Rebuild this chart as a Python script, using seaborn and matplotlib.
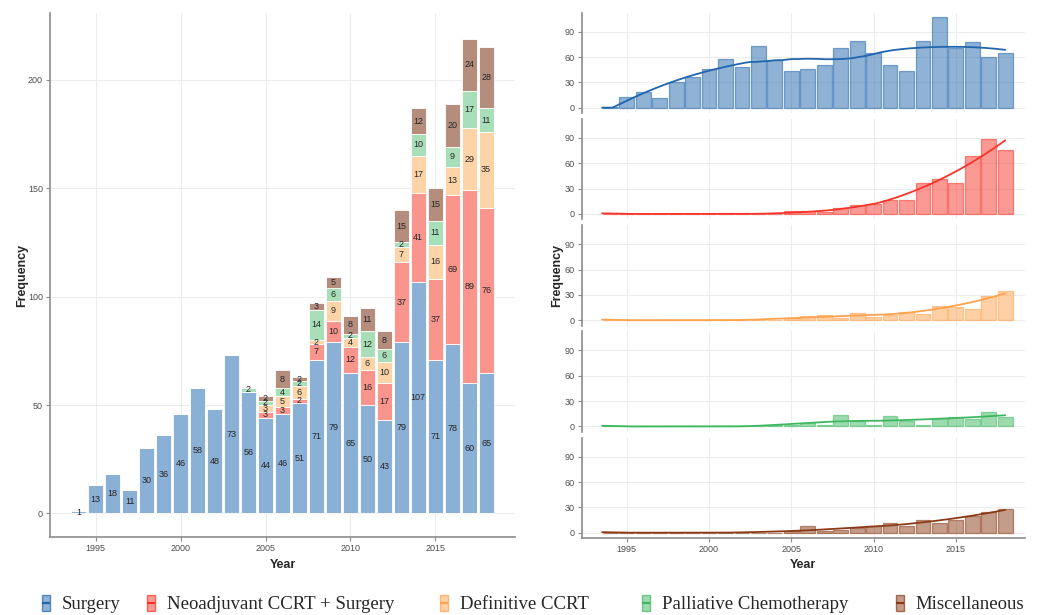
import numpy as np
import pandas as pd
import matplotlib
matplotlib.use("Agg")
import matplotlib.pyplot as plt
import seaborn as sns
from matplotlib.patches import Rectangle
from matplotlib.lines import Line2D
from matplotlib.legend_handler import HandlerBase

# ---------------- data ----------------
years = list(range(1994, 2019))
surgery = [1, 13, 18, 11, 30, 36, 46, 58, 48, 73, 56, 44, 46, 51, 71, 79, 65, 50, 43, 79, 107, 71, 78, 60, 65]
neoadjuvant = [0] * 11 + [3, 3, 2, 7, 10, 12, 16, 17, 37, 41, 37, 69, 89, 76]
definitive = [0] * 11 + [3, 5, 6, 2, 9, 4, 6, 10, 7, 17, 16, 13, 29, 35]
palliative = [0] * 10 + [2] + [2, 4, 2, 14, 6, 2, 12, 6, 2, 10, 11, 9, 17, 11]
miscellaneous = [0] * 11 + [2, 8, 2, 3, 5, 8, 11, 8, 15, 12, 15, 20, 24, 28]

categories = ["Surgery", "Neoadjuvant CCRT + Surgery", "Definitive CCRT",
              "Palliative Chemotherapy", "Miscellaneous"]
series = [surgery, neoadjuvant, definitive, palliative, miscellaneous]

left_ticks_x = [1995, 2000, 2005, 2010, 2015]
left_ticks_y = [0, 50, 100, 150, 200]
right_ticks_y = [0, 30, 60, 90]

# ---------------- styles ----------------
bar_colors = ["#8BB0D6", "#F9958D", "#FDD4A8", "#A9DFB8", "#B48D7D"]
line_colors = ["#2166AC", "#F8342A", "#FFA24D", "#3DB861", "#8B3A16"]
hist_face = ["#85ABD3", "#FD9890", "#FDCB99", "#A4DDB0", "#B38371"]

W, H = 1041, 615
sns.set_theme(style="white")
plt.rcParams["font.family"] = ["Liberation Sans", "DejaVu Sans"]

fig = plt.figure(figsize=(W / 100, H / 100), dpi=100)

SPINE_C = "#8C8C8C"
GRID_C = "#EDEDED"
TICKLAB_C = "#4D4D4D"


def style_axes(ax):
    ax.set_axisbelow(True)
    ax.grid(True, color=GRID_C, lw=0.8)
    for s in ["top", "right"]:
        ax.spines[s].set_visible(False)
    for s in ["left", "bottom"]:
        ax.spines[s].set_color(SPINE_C)
        ax.spines[s].set_linewidth(1.2)
    ax.tick_params(axis="both", length=3, width=0.8, color=SPINE_C,
                   labelsize=6.5, labelcolor=TICKLAB_C, pad=2,
                   bottom=True, left=True)


# ---------------- left stacked bars ----------------
axL = fig.add_axes([50 / W, 1 - 537.3 / H, 465 / W, (537.3 - 12.7) / H])
rows = []
for name, vals in zip(categories, series):
    for y, v in zip(years, vals):
        rows.append({"Year": y, "Treatment": name, "Count": v})
df = pd.DataFrame(rows)

sns.histplot(data=df, x="Year", weights="Count", hue="Treatment",
             hue_order=categories[::-1], multiple="stack", discrete=True,
             shrink=0.9, palette=dict(zip(categories, bar_colors)), alpha=1,
             edgecolor="white", linewidth=0.6, legend=False, ax=axL)

bottom = np.zeros(len(years))
for vals in series:
    v = np.asarray(vals, float)
    for x, b, val in zip(years, bottom, v):
        if val > 0:
            axL.text(x, b + val / 2, f"{int(val)}", ha="center", va="center",
                     fontsize=6.5, color="#262626")
    bottom += v

style_axes(axL)
axL.set_xlim(1992.3, 2019.7)
axL.set_ylim(-11, 231)
axL.set_xticks(left_ticks_x)
axL.set_yticks(left_ticks_y)
axL.set_xlabel("Year", fontsize=9, fontweight="bold", labelpad=4)
axL.set_ylabel("Frequency", fontsize=9, fontweight="bold", labelpad=0)


# ---------------- right faceted histograms ----------------
def loess(x, y, xs, span=0.75):
    x = np.asarray(x, float)
    y = np.asarray(y, float)
    n = len(x)
    q = int(np.floor(span * n))
    out = []
    for x0 in xs:
        d = np.abs(x - x0)
        h = np.sort(d)[q - 1] * 1.0001
        u = np.clip(d / h, 0, 1)
        w = (1 - u ** 3) ** 3
        A = np.vstack([np.ones(n), x - x0, (x - x0) ** 2]).T
        sw = np.sqrt(w)
        beta = np.linalg.lstsq(A * sw[:, None], y * sw, rcond=None)[0]
        out.append(beta[0])
    return np.array(out)


grid = np.linspace(1993.5, 2018, 200)
panel_h = 100.3
for i, (name, vals) in enumerate(zip(categories, series)):
    top = 12.7 + i * 106.25
    ax = fig.add_axes([581.7 / W, 1 - (top + panel_h) / H, 443.3 / W, panel_h / H])
    sns.histplot(x=years, weights=vals, discrete=True, shrink=0.9,
                 color=hist_face[i], ax=ax, linewidth=0.9)
    for p in ax.patches:
        p.set_facecolor(matplotlib.colors.to_rgba(line_colors[i], 0.5))
        p.set_edgecolor(matplotlib.colors.to_rgba(line_colors[i], 0.55))
    sm = np.clip(loess(years, vals, grid), 0, None)
    sns.lineplot(x=grid, y=sm, color=line_colors[i], lw=1.3, ax=ax)
    style_axes(ax)
    ax.set_xlim(1992.26, 2019.2)
    ax.set_ylim(-6.3, 112.5)
    ax.set_xticks(left_ticks_x)
    ax.set_yticks(right_ticks_y)
    ax.set_ylabel("")
    ax.set_xlabel("")
    if i < 4:
        ax.spines["bottom"].set_visible(False)
        ax.tick_params(axis="x", labelbottom=False, length=0)
    else:
        ax.set_xlabel("Year", fontsize=9, fontweight="bold", labelpad=4)
    if i == 2:
        ax.set_ylabel("Frequency", fontsize=9, fontweight="bold", labelpad=1)


# ---------------- legend ----------------
class KeyHandle:
    def __init__(self, color):
        self.color = color


class KeyHandler(HandlerBase):
    def create_artists(self, legend, orig_handle, xdescent, ydescent,
                       width, height, fontsize, trans):
        c = orig_handle.color
        x0, y0 = -xdescent, -ydescent
        rect = Rectangle((x0, y0), width, height,
                         facecolor=matplotlib.colors.to_rgba(c, 0.5),
                         edgecolor=matplotlib.colors.to_rgba(c, 0.7),
                         lw=1.0, transform=trans)
        mid = Line2D([x0, x0 + width], [y0 + height / 2] * 2, color=c,
                     lw=1.6, solid_capstyle="butt", transform=trans)
        return [rect, mid]


key_left = [42, 147, 440, 642, 896]
for i, name in enumerate(categories):
    fig.legend([KeyHandle(line_colors[i])], [name],
               handler_map={KeyHandle: KeyHandler()},
               loc="center left", bbox_to_anchor=(key_left[i] / W, 1 - 604 / H),
               frameon=False, borderpad=0, borderaxespad=0,
               handlelength=0.45, handleheight=0.95, handletextpad=0.6,
               prop={"family": "Liberation Serif", "size": 13.5})

fig.savefig("out.png", dpi=100)
